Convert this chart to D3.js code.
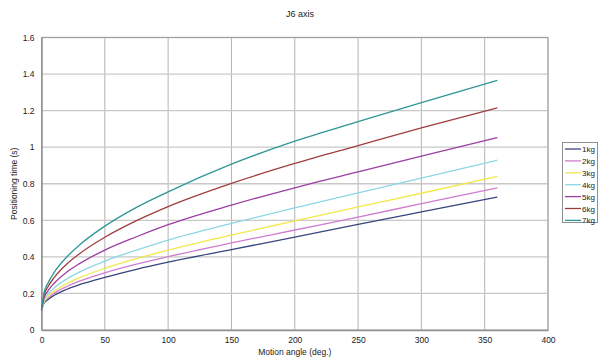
<!DOCTYPE html>
<html>
<head>
<meta charset="utf-8">
<script src="https://cdn.jsdelivr.net/npm/d3@7"></script>
<style>
  html, body { margin: 0; padding: 0; background: #fff; }
  svg { display: block; font-family: "Liberation Sans", Arial, sans-serif; }
</style>
</head>
<body>
<svg id="chart" width="600" height="360"></svg>
<script>
// ---- data ----
const angles = [0, 2, 5, 10, 20, 30, 50, 75, 100, 150, 200, 250, 300, 360];
const seriesNames = ["1kg", "2kg", "3kg", "4kg", "5kg", "6kg", "7kg"];
const t1kg = [0.11, 0.146, 0.166, 0.190, 0.223, 0.248, 0.288, 0.332, 0.371, 0.440, 0.508, 0.578, 0.646, 0.727];
const t2kg = [0.11, 0.151, 0.174, 0.201, 0.238, 0.267, 0.313, 0.360, 0.401, 0.476, 0.547, 0.618, 0.691, 0.778];
const t3kg = [0.11, 0.155, 0.182, 0.212, 0.254, 0.286, 0.337, 0.390, 0.437, 0.519, 0.597, 0.673, 0.748, 0.840];
const t4kg = [0.11, 0.163, 0.195, 0.230, 0.279, 0.317, 0.377, 0.437, 0.492, 0.583, 0.668, 0.750, 0.831, 0.929];
const t5kg = [0.11, 0.175, 0.213, 0.256, 0.317, 0.363, 0.437, 0.510, 0.576, 0.683, 0.778, 0.865, 0.951, 1.053];
const t6kg = [0.11, 0.189, 0.235, 0.287, 0.361, 0.417, 0.507, 0.598, 0.675, 0.802, 0.911, 1.009, 1.106, 1.215];
const t7kg = [0.11, 0.202, 0.255, 0.315, 0.400, 0.465, 0.568, 0.671, 0.756, 0.907, 1.033, 1.140, 1.244, 1.366];
const xTicks = [0, 50, 100, 150, 200, 250, 300, 350, 400];
const yTicks = [0, 0.2, 0.4, 0.6, 0.8, 1, 1.2, 1.4, 1.6];
const colors = ["#38457f", "#cf7ccf", "#f2e84a", "#8cd6e6", "#9b3ea3", "#a03e3e", "#2f9696"];

const allSeries = [t1kg, t2kg, t3kg, t4kg, t5kg, t6kg, t7kg];

// ---- layout ----
const svg = d3.select("#chart");
const plot = { left: 41.5, right: 548, top: 37.5, bottom: 330 };

const x = d3.scaleLinear().domain([0, 400]).range([plot.left, plot.right]);
const y = d3.scaleLinear().domain([0, 1.6]).range([plot.bottom, plot.top]);

// gridlines
const g = svg.append("g");
g.selectAll("line.vg").data(xTicks.slice(1)).enter().append("line")
  .attr("x1", d => x(d)).attr("x2", d => x(d))
  .attr("y1", plot.top).attr("y2", plot.bottom)
  .attr("stroke", "#b4b4b4").attr("stroke-width", 1);
g.selectAll("line.hg").data(yTicks.slice(1)).enter().append("line")
  .attr("x1", plot.left).attr("x2", plot.right)
  .attr("y1", d => y(d)).attr("y2", d => y(d))
  .attr("stroke", "#c8c8c8").attr("stroke-width", 1.3);

// plot border
svg.append("rect")
  .attr("x", plot.left).attr("y", plot.top)
  .attr("width", plot.right - plot.left).attr("height", plot.bottom - plot.top)
  .attr("fill", "none").attr("stroke", "#a0a0a0").attr("stroke-width", 1);

// axes
const xAxis = d3.axisBottom(x).tickValues(xTicks).tickSize(0).tickPadding(7).tickFormat(d3.format("d"));
const yAxis = d3.axisLeft(y).tickValues(yTicks).tickSize(0).tickPadding(7).tickFormat(d => d === 0 ? "0" : d3.format("~g")(d));
const gx = svg.append("g").attr("transform", `translate(0,${plot.bottom})`).call(xAxis);
const gy = svg.append("g").attr("transform", `translate(${plot.left},0)`).call(yAxis);
[gx, gy].forEach(a => {
  a.select(".domain").attr("stroke", "#909090").attr("stroke-width", 1.5);
  a.selectAll("text").attr("font-size", 8.5).attr("fill", "#222");
});

// lines
const line = d3.line()
  .x((d, i) => x(angles[i]))
  .y(d => y(d))
  .curve(d3.curveMonotoneX);
svg.append("g").selectAll("path").data(allSeries).enter().append("path")
  .attr("d", d => line(d))
  .attr("fill", "none")
  .attr("stroke", (d, i) => colors[i])
  .attr("stroke-width", 1.3);

// titles
svg.append("text").attr("x", 300).attr("y", 17).attr("text-anchor", "middle")
  .attr("font-size", 9).attr("fill", "#222").text("J6 axis");
svg.append("text").attr("x", (plot.left + plot.right) / 2).attr("y", 355).attr("text-anchor", "middle")
  .attr("font-size", 8.5).attr("fill", "#222").text("Motion angle (deg.)");
svg.append("text")
  .attr("transform", `translate(17,${(plot.top + plot.bottom) / 2}) rotate(-90)`)
  .attr("text-anchor", "middle").attr("font-size", 8.5).attr("fill", "#222")
  .text("Positioning time (s)");

// legend
const lg = svg.append("g");
lg.append("rect").attr("x", 562.5).attr("y", 142.5).attr("width", 35).attr("height", 80)
  .attr("fill", "#fff").attr("stroke", "#909090").attr("stroke-width", 1);
const items = lg.selectAll("g.item").data(seriesNames).enter().append("g")
  .attr("transform", (d, i) => `translate(0,${149 + i * 11.9})`);
items.append("line").attr("x1", 565).attr("x2", 581).attr("y1", 0).attr("y2", 0)
  .attr("stroke", (d, i) => colors[i]).attr("stroke-width", 1.3);
items.append("text").attr("x", 582).attr("y", 3).attr("font-size", 8)
  .attr("fill", "#222").text(d => d);
</script>
</body>
</html>
